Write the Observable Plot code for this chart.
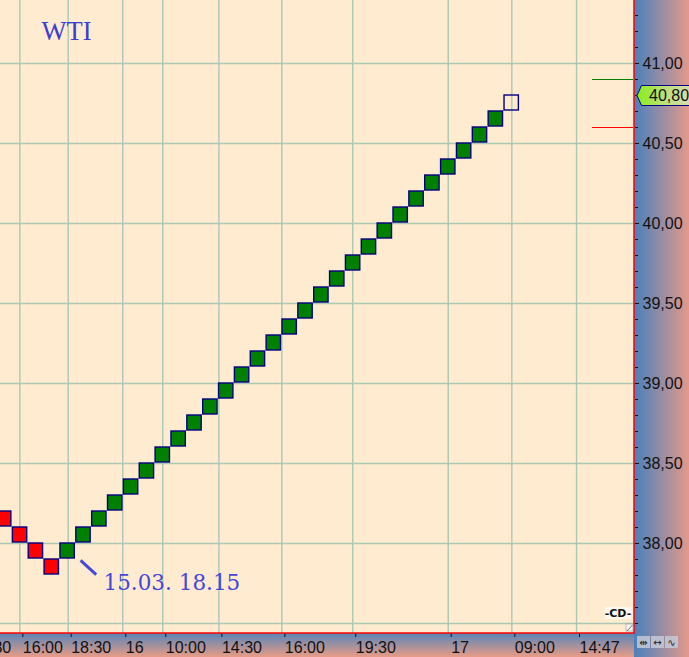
<!DOCTYPE html>
<html>
<head>
<meta charset="utf-8">
<script src="https://cdn.jsdelivr.net/npm/d3@7"></script>
<script src="https://cdn.jsdelivr.net/npm/@observablehq/plot@0.6"></script>
<style>
html, body { margin: 0; padding: 0; background: #feebd0; }
#chart { position: relative; width: 689px; height: 657px; overflow: hidden; }
#chart svg { display: block; }
</style>
</head>
<body>
<div id="chart"></div>
<script>
// ---------------- data ----------------
const title = "WTI";
const brickSize = 0.1;
// lower edge of each renko brick, left to right
const brickLow = [
  38.1, 38.0, 37.9, 37.8,
  37.9, 38.0, 38.1, 38.2, 38.3, 38.4, 38.5, 38.6, 38.7, 38.8,
  38.9, 39.0, 39.1, 39.2, 39.3, 39.4, 39.5, 39.6, 39.7, 39.8,
  39.9, 40.0, 40.1, 40.2, 40.3, 40.4, 40.5, 40.6,
  40.7
];
const brickDir = [
  "down", "down", "down", "down",
  "up", "up", "up", "up", "up", "up", "up", "up", "up", "up",
  "up", "up", "up", "up", "up", "up", "up", "up", "up", "up",
  "up", "up", "up", "up", "up", "up", "up", "up",
  "open"
];
// time axis: brick-column position of each time label
const timeTickCols = [-1.82, 1.44, 4.49, 7.93, 10.45, 13.99, 17.96, 22.43, 28.45, 32.46, 36.54];
const timeTickLabels = ["13:30", "16:00", "18:30", "16", "10:00", "14:30", "16:00", "19:30", "17", "09:00", "14:47"];
// price axis
const priceTicks = [38.0, 38.5, 39.0, 39.5, 40.0, 40.5, 41.0];
const priceGrid = [37.5, 38.0, 38.5, 39.0, 39.5, 40.0, 40.5, 41.0];
const lastPrice = 40.80;
const reversalUp = 40.9;
const reversalDown = 40.6;
const annotationText = "15.03. 18.15";
const annotationBrick = 4;

// ---------------- build ----------------
const bricks = brickLow.map((low, i) => ({
  col: i, low, high: +(low + brickSize).toFixed(2), dir: brickDir[i]
}));
const timeLabelOf = new Map(timeTickCols.map((c, i) => [c, timeTickLabels[i]]));
const commaFmt = d3.formatLocale({decimal: ",", thousands: ".", grouping: [3], currency: ["", ""]}).format(".2f");
const minorTicks = d3.range(375, 414).map(d => d / 10);

const gridColor = "#aac8b4";
const annoColor = "#4646da";
const annoB = bricks[annotationBrick];

const chart = Plot.plot({
  width: 689,
  height: 657,
  marginLeft: 0,
  marginRight: 55,
  marginTop: 0,
  marginBottom: 24,
  x: {domain: [0.2207, 40.195]},
  y: {domain: [37.4375, 41.39375]},
  color: {domain: ["down", "up", "open"], range: ["#ff0000", "#008000", "transparent"]},
  style: {background: "transparent", fontFamily: "'Liberation Sans', Arial, sans-serif", fontSize: "16px", overflow: "hidden"},
  marks: [
    Plot.gridX({ticks: timeTickCols, stroke: gridColor, strokeOpacity: 1, strokeWidth: 1.4}),
    Plot.gridY({ticks: priceGrid, stroke: gridColor, strokeOpacity: 1, strokeWidth: 1.4}),
    Plot.ruleY([reversalUp], {x1: 37.55, x2: 40.13, stroke: "#008000", strokeWidth: 1}),
    Plot.ruleY([reversalDown], {x1: 37.55, x2: 40.13, stroke: "#ff0000", strokeWidth: 1}),
    Plot.rect(bricks, {
      x1: d => d.col, x2: d => d.col + 1, y1: "low", y2: "high",
      insetRight: 1.5, insetBottom: 1,
      fill: "dir", stroke: "#000080", strokeWidth: 1.4
    }),
    Plot.link([annoB], {
      x1: d => d.col + 1.27, y1: d => d.low - 0.006,
      x2: d => d.col + 2.255, y2: d => d.low - 0.094,
      stroke: annoColor, strokeWidth: 3
    }),
    Plot.text([annoB], {
      x: d => d.col + 2.715, y: d => d.low - 0.1875,
      text: () => annotationText,
      textAnchor: "start", lineAnchor: "bottom",
      fontFamily: "'DejaVu Serif', serif", fontSize: 21.5, fill: annoColor
    }),
    Plot.text([title], {
      frameAnchor: "top-left", dx: 41, dy: 39,
      textAnchor: "start", lineAnchor: "bottom",
      fontFamily: "'Liberation Serif', serif", fontSize: 26.5, fill: "#3c3cd6"
    }),
    Plot.axisY({anchor: "right", ticks: minorTicks, tickSize: 3, tickFormat: () => "", color: "#111"}),
    Plot.axisY({anchor: "right", ticks: priceTicks, tickSize: 4, tickPadding: 4, tickFormat: d => commaFmt(d), fontSize: 16, color: "#111"}),
    Plot.axisX({anchor: "bottom", ticks: timeTickCols, tickSize: 4, tickPadding: 4.6, tickFormat: d => timeLabelOf.get(d),
      textAnchor: "start", dx: 3, fontSize: 16, color: "#111"})
  ]
});

document.getElementById("chart").appendChild(chart);

// ---------------- decorations (axis panels, frame lines, price tag) ----------------
const svg = d3.select(chart);
const xs = d3.scaleLinear(chart.scale("x").domain, chart.scale("x").range);
const ys = d3.scaleLinear(chart.scale("y").domain, chart.scale("y").range);
const W = 689, H = 657;
const px = xs.range()[1];          // right edge of plot area
const py = ys.range()[0];          // bottom edge of plot area

const defs = svg.insert("defs", ":first-child");
const gR = defs.append("linearGradient").attr("id", "gR").attr("x1", 0).attr("x2", 1).attr("y1", 0).attr("y2", 0);
gR.append("stop").attr("offset", 0).attr("stop-color", "#4a80bc");
gR.append("stop").attr("offset", 1).attr("stop-color", "#e4998a");
const gB = defs.append("linearGradient").attr("id", "gB").attr("x1", 0).attr("x2", 0).attr("y1", 0).attr("y2", 1);
gB.append("stop").attr("offset", 0).attr("stop-color", "#5884b8");
gB.append("stop").attr("offset", 1).attr("stop-color", "#e89c86");
const gT = defs.append("linearGradient").attr("id", "gT").attr("x1", 0).attr("x2", 1).attr("y1", 0).attr("y2", 0);
gT.append("stop").attr("offset", 0).attr("stop-color", "#86f018");
gT.append("stop").attr("offset", 0.45).attr("stop-color", "#b8e070");
gT.append("stop").attr("offset", 1).attr("stop-color", "#d8dcb4");

const bg = svg.insert("g", "defs + *");
bg.append("rect").attr("x", 0).attr("y", 0).attr("width", px).attr("height", py).attr("fill", "#feebd0");
bg.append("rect").attr("x", 0).attr("y", py).attr("width", px).attr("height", H - py).attr("fill", "url(#gB)");
bg.append("rect").attr("x", px).attr("y", 0).attr("width", W - px).attr("height", H).attr("fill", "url(#gR)");

const fg = svg.append("g").attr("text-anchor", "start");
fg.append("line").attr("x1", px).attr("x2", px).attr("y1", 0).attr("y2", py + 0.5).attr("stroke", "#ff0000").attr("stroke-width", 1.5);
fg.append("line").attr("x1", 0).attr("x2", px).attr("y1", py).attr("y2", py).attr("stroke", "#ff0000").attr("stroke-width", 1.5);

// last price tag
const ty = ys(lastPrice);
fg.append("path")
  .attr("d", `M${px + 3},${ty + 0.5} L${px + 7.5},${ty - 9.5} L${W + 2},${ty - 9.5} L${W + 2},${ty + 10.5} L${px + 7.5},${ty + 10.5} Z`)
  .attr("fill", "url(#gT)").attr("stroke", "#000080").attr("stroke-width", 1);
fg.append("text").attr("x", px + 15).attr("y", ty + 0.5).attr("dy", "0.35em").attr("text-anchor", "start")
  .attr("font-size", 16).attr("fill", "#111").text(commaFmt(lastPrice));

// small widgets
const wg = fg.append("g").attr("font-family", "'DejaVu Sans', sans-serif");
wg.append("rect").attr("x", px - 29).attr("y", py - 26).attr("width", 26).attr("height", 12).attr("fill", "#fff8ee");
wg.append("text").attr("x", px - 16).attr("y", py - 20).attr("dy", "0.35em").attr("text-anchor", "middle")
  .attr("font-size", 11).attr("font-weight", "bold").attr("fill", "#111").text("-CD-");
wg.append("rect").attr("x", px - 8).attr("y", py - 9).attr("width", 7).attr("height", 7).attr("fill", "#f4f4f4").attr("stroke", "#999").attr("stroke-width", 0.6);
wg.append("line").attr("x1", px - 7).attr("y1", py - 2).attr("x2", px - 1.5).attr("y2", py - 8).attr("stroke", "#555").attr("stroke-width", 0.8);
["\u21F9", "\u2194", "\u223F"].forEach((g, i) => {
  const bx = px + 3 + i * 14;
  wg.append("rect").attr("x", bx).attr("y", py + 3).attr("width", 13).attr("height", 12).attr("fill", "#c4c8d6").attr("opacity", 0.85);
  wg.append("text").attr("x", bx + 6.5).attr("y", py + 9).attr("dy", "0.35em").attr("text-anchor", "middle")
    .attr("font-size", 10).attr("fill", "#222").text(g);
});
</script>
</body>
</html>
